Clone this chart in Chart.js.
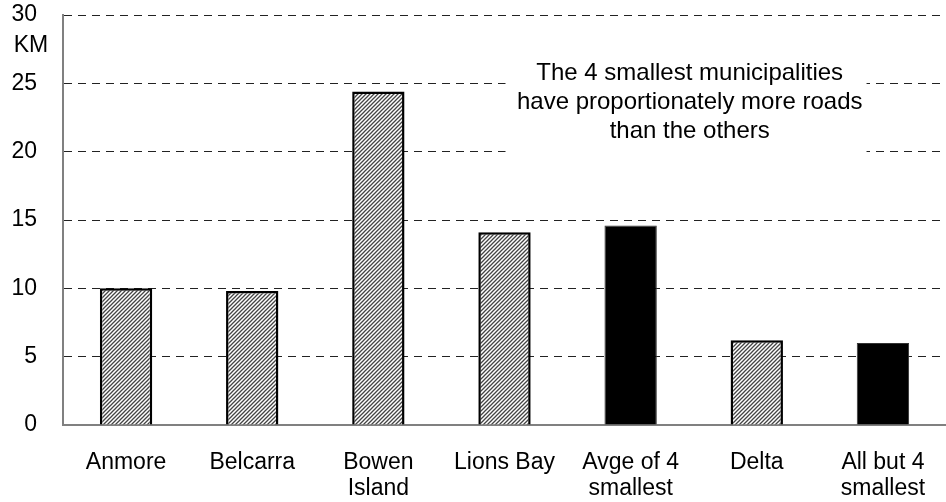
<!DOCTYPE html>
<html>
<head>
<meta charset="utf-8">
<script src="https://cdn.jsdelivr.net/npm/chart.js@4"></script>
<style>
  html, body { margin: 0; padding: 0; background: #fff; }
  #wrap { width: 946px; height: 502px; }
</style>
</head>
<body>
<div id="wrap"><canvas id="c" width="946" height="502"></canvas></div>
<script>
// Road length per municipality (km)
const categories = [
  ["Anmore"], ["Belcarra"], ["Bowen", "Island"], ["Lions Bay"],
  ["Avge of 4", "smallest"], ["Delta"], ["All but 4", "smallest"]
];
const roadKm = [10.0, 9.8, 24.4, 14.1, 14.6, 6.2, 6.0];
const isAverage = [false, false, false, false, true, false, true];
const yTicks = [0, 5, 10, 15, 20, 25, 30];
const unitLabel = "KM";
const noteLines = [
  "The 4 smallest municipalities",
  "have proportionately more roads",
  "than the others"
];

const FONT = "'Liberation Sans', Arial, sans-serif";

// Diagonal hatch fill for the individual municipalities
function makeHatch() {
  const s = 4;
  const pc = document.createElement("canvas");
  pc.width = s; pc.height = s;
  const g = pc.getContext("2d");
  g.fillStyle = "#fff";
  g.fillRect(0, 0, s, s);
  g.strokeStyle = "#444";
  g.lineWidth = 1.3;
  g.beginPath();
  g.moveTo(0, s); g.lineTo(s, 0);
  g.moveTo(-1, 1); g.lineTo(1, -1);
  g.moveTo(s - 1, s + 1); g.lineTo(s + 1, s - 1);
  g.stroke();
  return g.createPattern(pc, "repeat");
}
const hatch = makeHatch();

// Unit label under the top tick and the boxed note
const extras = {
  id: "extras",
  beforeDatasetsDraw(chart) {
    const { ctx, scales: { x, y } } = chart;
    // white box clearing the gridlines behind the note
    const left = x.getPixelForValue(3) + 1;
    const right = x.getPixelForValue(5.87);
    const top = y.getPixelForValue(27.2);
    const bottom = y.getPixelForValue(19.5);
    ctx.save();
    ctx.fillStyle = "#fff";
    ctx.fillRect(left, top, right - left, bottom - top);
    ctx.restore();
  },
  afterDraw(chart) {
    const { ctx, scales: { x, y } } = chart;
    ctx.save();
    ctx.fillStyle = "#000";
    ctx.textAlign = "center";
    ctx.textBaseline = "middle";
    ctx.font = "23px " + FONT;
    ctx.fillText(unitLabel, 31, y.getPixelForValue(27.75));
    ctx.font = "24px " + FONT;
    const cx = (x.getPixelForValue(4) + x.getPixelForValue(5)) / 2 - 4;
    const y0 = y.getPixelForValue(25.75);
    noteLines.forEach((t, i) => ctx.fillText(t, cx, y0 + i * 29));
    ctx.restore();
  }
};

new Chart(document.getElementById("c"), {
  type: "bar",
  data: {
    labels: categories,
    datasets: [{
      data: roadKm,
      backgroundColor: isAverage.map(a => a ? "#000" : hatch),
      borderColor: isAverage.map(a => a ? "#333" : "#000"),
      borderWidth: isAverage.map(a => a ? 1 : 2.5),
      borderSkipped: "bottom",
      barPercentage: 0.83,
      categoryPercentage: 0.5
    }]
  },
  options: {
    responsive: false,
    animation: false,
    devicePixelRatio: 1,
    layout: { padding: { top: 15, right: 0, left: 0, bottom: 0 } },
    plugins: { legend: { display: false }, tooltip: { enabled: false } },
    scales: {
      x: {
        grid: { display: false, drawTicks: false },
        border: { color: "#808080", width: 2 },
        ticks: {
          color: "#000",
          font: { family: FONT, size: 23, lineHeight: 1.13 },
          padding: 25,
          maxRotation: 0,
          autoSkip: false
        },
        afterFit(s) { s.height = 77; s.paddingLeft = 0; s.paddingRight = 0; }
      },
      y: {
        min: 0, max: 30,
        afterBuildTicks(s) { s.ticks = yTicks.map(v => ({ value: v })); },
        grid: {
          drawTicks: false,
          color: c => (c.tick && c.tick.value === 0) ? "rgba(0,0,0,0)" : "#222",
          lineWidth: 1
        },
        border: { color: "#808080", width: 2, dash: [8, 6], dashOffset: 0 },
        ticks: {
          color: "#000",
          font: { family: FONT, size: 23 },
          padding: 26
        },
        afterFit(s) { s.width = 63; s.paddingTop = 0; s.paddingBottom = 0; }
      }
    }
  },
  plugins: [extras]
});
</script>
</body>
</html>
